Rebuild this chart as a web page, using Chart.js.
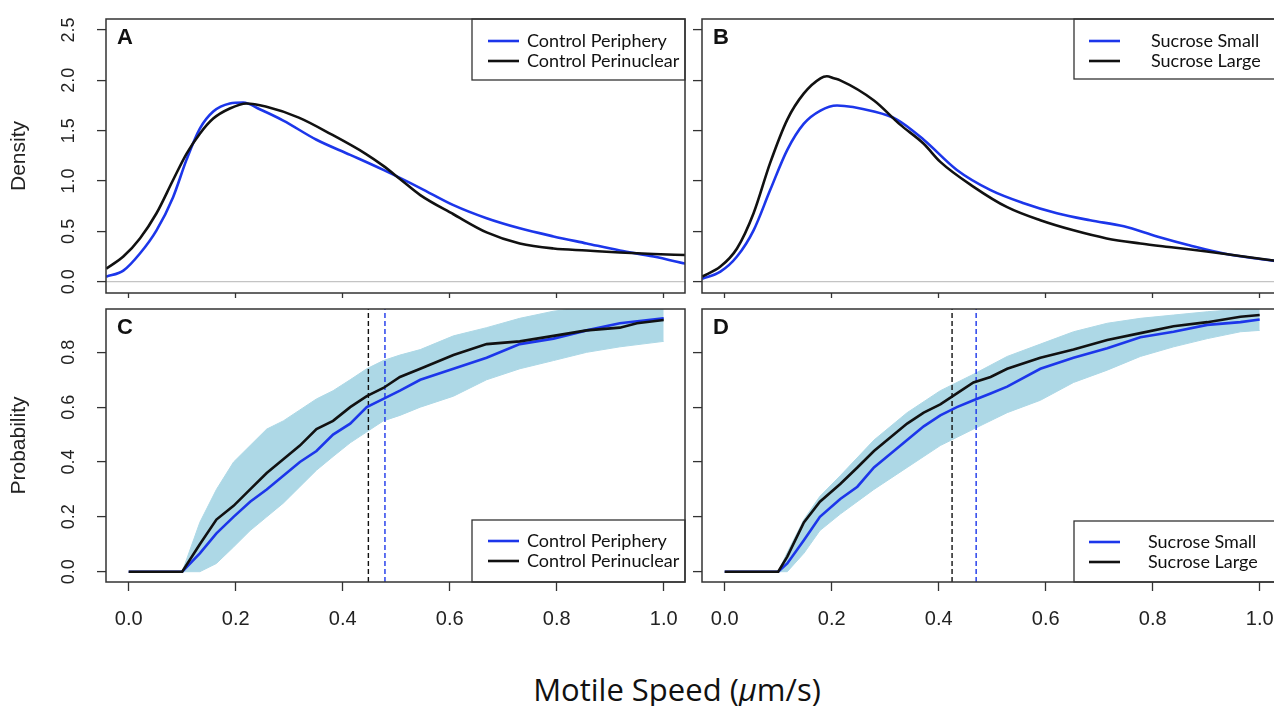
<!DOCTYPE html>
<html>
<head>
<meta charset="utf-8">
<script src="https://cdn.jsdelivr.net/npm/chart.js@4.4.1/dist/chart.umd.min.js"></script>
<style>
  html, body { margin: 0; padding: 0; background: #fff; }
  #fig { position: relative; width: 1274px; height: 706px; overflow: hidden; }
  #fig canvas { position: absolute; }
  #xtitle {
    position: absolute; left: 427px; width: 500px; top: 668px;
    text-align: center; font-family: "Open Sans", sans-serif; font-size: 31px; color: #111;
  }
</style>
</head>
<body>
<div id="fig">
  <canvas id="panelA" width="700" height="300" style="left:0;top:0"></canvas>
  <canvas id="panelB" width="700" height="300" style="left:596px;top:0"></canvas>
  <canvas id="panelC" width="700" height="340" style="left:0;top:300px"></canvas>
  <canvas id="panelD" width="700" height="340" style="left:596px;top:300px"></canvas>
  <div id="xtitle">Motile Speed (<i>μ</i>m/s)</div>
</div>
<script>
// axes
const X_RANGE = [-0.0424, 1.0398];
const X_TICKS = [0, 0.2, 0.4, 0.6, 0.8, 1.0];
const DENSITY_RANGE = [-0.112, 2.609];
const DENSITY_TICKS = [0, 0.5, 1.0, 1.5, 2.0, 2.5];
const PROB_RANGE = [-0.0376, 0.958];
const PROB_TICKS = [0, 0.2, 0.4, 0.6, 0.8];

// A - density, control
const A_PERIPHERY_X = [-0.042, -0.01, 0.021, 0.052, 0.083, 0.108, 0.133, 0.158, 0.189, 0.214, 0.246, 0.289, 0.351, 0.414, 0.476, 0.545, 0.607, 0.669, 0.731, 0.794, 0.856, 0.918, 0.981, 1.04];
const A_PERIPHERY_Y = [0.05, 0.11, 0.28, 0.51, 0.84, 1.21, 1.52, 1.69, 1.77, 1.78, 1.71, 1.60, 1.41, 1.26, 1.11, 0.93, 0.76, 0.63, 0.53, 0.45, 0.38, 0.31, 0.25, 0.18];
const A_PERINUCLEAR_X = [-0.042, -0.01, 0.021, 0.052, 0.083, 0.108, 0.133, 0.158, 0.189, 0.22, 0.256, 0.318, 0.38, 0.443, 0.476, 0.507, 0.545, 0.607, 0.669, 0.731, 0.794, 0.856, 0.918, 0.981, 1.04];
const A_PERINUCLEAR_Y = [0.13, 0.25, 0.43, 0.68, 1.01, 1.27, 1.47, 1.62, 1.72, 1.77, 1.74, 1.63, 1.46, 1.27, 1.15, 1.02, 0.86, 0.67, 0.49, 0.38, 0.33, 0.31, 0.29, 0.275, 0.265];

// B - density, sucrose
const B_SMALL_X = [-0.042, -0.008, 0.023, 0.054, 0.085, 0.117, 0.148, 0.179, 0.21, 0.279, 0.322, 0.372, 0.434, 0.497, 0.559, 0.621, 0.683, 0.746, 0.808, 0.87, 0.933, 0.995, 1.04];
const B_SMALL_Y = [0.03, 0.10, 0.25, 0.51, 0.91, 1.31, 1.57, 1.70, 1.75, 1.69, 1.61, 1.41, 1.11, 0.91, 0.78, 0.68, 0.61, 0.55, 0.45, 0.36, 0.28, 0.23, 0.20];
const B_LARGE_X = [-0.042, -0.008, 0.023, 0.054, 0.085, 0.117, 0.148, 0.179, 0.191, 0.204, 0.216, 0.279, 0.328, 0.372, 0.403, 0.466, 0.528, 0.59, 0.652, 0.714, 0.777, 0.839, 0.901, 0.963, 1.04];
const B_LARGE_Y = [0.05, 0.15, 0.33, 0.68, 1.18, 1.61, 1.87, 2.02, 2.04, 2.02, 2.00, 1.80, 1.56, 1.37, 1.19, 0.94, 0.74, 0.61, 0.51, 0.43, 0.38, 0.34, 0.30, 0.255, 0.20];

// C - cumulative, control
const C_PERIPHERY_X = [0, 0.1, 0.133, 0.164, 0.196, 0.227, 0.258, 0.289, 0.32, 0.351, 0.382, 0.414, 0.445, 0.476, 0.507, 0.545, 0.607, 0.669, 0.731, 0.794, 0.856, 0.918, 1.0];
const C_PERIPHERY_Y = [0, 0, 0.067, 0.14, 0.20, 0.255, 0.30, 0.35, 0.40, 0.44, 0.50, 0.54, 0.60, 0.63, 0.66, 0.70, 0.74, 0.78, 0.83, 0.85, 0.88, 0.906, 0.924];
const C_PERINUCLEAR_X = [0, 0.1, 0.133, 0.164, 0.196, 0.227, 0.258, 0.289, 0.32, 0.351, 0.382, 0.414, 0.445, 0.476, 0.507, 0.545, 0.607, 0.669, 0.731, 0.794, 0.856, 0.918, 0.95, 1.0];
const C_PERINUCLEAR_Y = [0, 0, 0.10, 0.19, 0.24, 0.30, 0.36, 0.41, 0.46, 0.52, 0.55, 0.60, 0.64, 0.67, 0.71, 0.74, 0.79, 0.83, 0.84, 0.86, 0.88, 0.89, 0.906, 0.918];
const C_BAND_X = [0.1, 0.133, 0.164, 0.196, 0.227, 0.258, 0.289, 0.32, 0.351, 0.382, 0.414, 0.445, 0.476, 0.507, 0.545, 0.607, 0.669, 0.731, 0.794, 0.856, 0.918, 1.0];
const C_BAND_UP = [0, 0.18, 0.30, 0.40, 0.46, 0.52, 0.55, 0.59, 0.63, 0.66, 0.70, 0.74, 0.77, 0.79, 0.81, 0.86, 0.89, 0.924, 0.95, 0.965, 0.975, 0.98];
const C_BAND_LO = [0, 0, 0.03, 0.09, 0.15, 0.20, 0.25, 0.31, 0.37, 0.42, 0.47, 0.51, 0.55, 0.57, 0.60, 0.64, 0.70, 0.74, 0.77, 0.80, 0.82, 0.84];
const C_MEDIANS = [0.479, 0.448]; // periphery, perinuclear

// D - cumulative, sucrose
const D_SMALL_X = [0, 0.1, 0.117, 0.148, 0.178, 0.216, 0.248, 0.279, 0.31, 0.341, 0.372, 0.403, 0.434, 0.465, 0.497, 0.528, 0.59, 0.652, 0.715, 0.777, 0.839, 0.902, 0.964, 1.0];
const D_SMALL_Y = [0, 0, 0.03, 0.115, 0.20, 0.265, 0.31, 0.38, 0.43, 0.48, 0.53, 0.57, 0.60, 0.625, 0.65, 0.675, 0.74, 0.78, 0.815, 0.855, 0.875, 0.90, 0.91, 0.92];
const D_LARGE_X = [0, 0.1, 0.117, 0.148, 0.178, 0.216, 0.248, 0.279, 0.31, 0.341, 0.372, 0.403, 0.434, 0.465, 0.497, 0.528, 0.59, 0.652, 0.715, 0.777, 0.839, 0.902, 0.964, 1.0];
const D_LARGE_Y = [0, 0, 0.055, 0.18, 0.255, 0.32, 0.38, 0.44, 0.49, 0.54, 0.58, 0.61, 0.65, 0.69, 0.71, 0.74, 0.78, 0.81, 0.845, 0.87, 0.895, 0.91, 0.93, 0.936];
const D_BAND_X = [0.1, 0.117, 0.148, 0.178, 0.216, 0.279, 0.341, 0.403, 0.465, 0.528, 0.59, 0.652, 0.715, 0.777, 0.839, 0.902, 0.964, 1.0];
const D_BAND_UP = [0, 0.07, 0.19, 0.275, 0.35, 0.48, 0.58, 0.66, 0.72, 0.785, 0.83, 0.875, 0.906, 0.924, 0.936, 0.948, 0.957, 0.96];
const D_BAND_LO = [0, 0, 0.067, 0.15, 0.21, 0.30, 0.38, 0.46, 0.52, 0.58, 0.625, 0.69, 0.735, 0.785, 0.82, 0.85, 0.875, 0.88];
const D_MEDIANS = [0.47, 0.425]; // small, large

const BLUE = '#1c36ea';
const BLACK = '#111111';
const LIGHTBLUE = '#add8e6';
const TICK_FONT = 'Liberation Sans';

const pts = (xs, ys) => xs.map((x, i) => ({ x, y: ys[i] }));

function curve(label, xs, ys, color, smooth) {
  return {
    label, inLegend: true, data: pts(xs, ys), borderColor: color, borderWidth: 2.6,
    cubicInterpolationMode: smooth ? 'monotone' : 'default', tension: 0,
    order: color === BLACK ? 0 : 1
  };
}
function band(xs, up, lo) {
  return [
    { data: pts(xs, up), borderColor: LIGHTBLUE, backgroundColor: LIGHTBLUE, borderWidth: 1, fill: '+1', order: 5 },
    { data: pts(xs, lo), borderColor: LIGHTBLUE, borderWidth: 1, fill: false, order: 5 }
  ];
}
function median(x, color) {
  return { data: [{ x, y: PROB_RANGE[0] }, { x, y: PROB_RANGE[1] }], borderColor: color, borderWidth: 1.4, borderDash: [5, 3], order: 3 };
}

// panel letter, legend box and frame
const frame = {
  id: 'frame',
  afterDatasetsDraw(chart, args, o) {
    const { ctx, chartArea: a } = chart;
    ctx.save();
    ctx.fillStyle = '#111';
    ctx.font = 'bold 22px "Liberation Sans"';
    ctx.textBaseline = 'top';
    ctx.fillText(o.tag, a.left + 11, a.top + 8);

    const L = o.legend;
    const bx = a.right - L.w;
    const by = L.at === 'top' ? a.top : a.bottom - L.h;
    ctx.fillStyle = '#fff';
    ctx.fillRect(bx, by, L.w, L.h);
    ctx.strokeStyle = '#333';
    ctx.lineWidth = 1.3;
    ctx.strokeRect(bx, by, L.w, L.h);
    ctx.font = '18px Lato';
    ctx.textBaseline = 'middle';
    chart.data.datasets.filter(d => d.inLegend).forEach((d, i) => {
      const y = by + L.row0 + i * 20;
      ctx.strokeStyle = d.borderColor;
      ctx.lineWidth = 2.6;
      ctx.beginPath();
      ctx.moveTo(bx + L.lineX, y);
      ctx.lineTo(bx + L.lineX + 31, y);
      ctx.stroke();
      ctx.fillStyle = '#111';
      ctx.fillText(d.label, bx + L.textX, y);
    });

    ctx.strokeStyle = '#333';
    ctx.lineWidth = 1.5;
    ctx.strokeRect(a.left, a.top, a.right - a.left, a.bottom - a.top);
    ctx.restore();
  }
};

function noPad(s) {
  s.paddingTop = 0; s.paddingBottom = 0; s.paddingLeft = 0; s.paddingRight = 0;
}

function panel(id, cfg) {
  return new Chart(document.getElementById(id), {
    type: 'line',
    data: { datasets: cfg.datasets },
    options: {
      responsive: false,
      animation: false,
      events: [],
      layout: { padding: { top: cfg.padTop, right: 15, left: 0, bottom: 0 } },
      elements: { point: { radius: 0 } },
      plugins: { legend: { display: false }, tooltip: { enabled: false }, frame: cfg.frame },
      scales: {
        x: {
          type: 'linear', min: X_RANGE[0], max: X_RANGE[1],
          afterBuildTicks: s => { s.ticks = X_TICKS.map(v => ({ value: v })); },
          afterFit: s => { s.height = cfg.xHeight; noPad(s); },
          border: { display: false },
          grid: { drawOnChartArea: false, tickLength: cfg.xTickLen, tickColor: '#333', tickWidth: 1.3 },
          ticks: {
            display: cfg.xLabels, autoSkip: false, maxRotation: 0, padding: 16, color: '#222',
            font: { family: TICK_FONT, size: 20 }, callback: v => v.toFixed(1)
          }
        },
        y: {
          type: 'linear', min: cfg.yRange[0], max: cfg.yRange[1],
          afterBuildTicks: s => { s.ticks = cfg.yTicks.map(v => ({ value: v })); },
          afterFit: s => { s.width = 106; noPad(s); },
          border: { display: false },
          grid: {
            color: c => (cfg.zeroLine && c.tick && c.tick.value === 0) ? '#c4c4c4' : 'rgba(0,0,0,0)',
            lineWidth: 1.2, tickColor: '#333', tickLength: 9, tickWidth: 1.3
          },
          ticks: {
            display: cfg.yLabels, autoSkip: false, minRotation: 90, maxRotation: 90, crossAlign: 'center',
            padding: 15, color: '#222', font: { family: TICK_FONT, size: 18 }, callback: v => v.toFixed(1)
          },
          title: {
            display: !!cfg.yTitle, text: cfg.yTitle, color: '#222',
            font: { family: TICK_FONT, size: 21 }, padding: { top: 7, bottom: 0 }
          }
        }
      }
    },
    plugins: [frame]
  });
}

const LEG_LEFT_TOP = { w: 213, h: 61, at: 'top', row0: 22, lineX: 16, textX: 55 };
const LEG_LEFT_BOTTOM = { w: 213, h: 62, at: 'bottom', row0: 21, lineX: 16, textX: 55 };
const LEG_RIGHT_TOP = { w: 207, h: 60, at: 'top', row0: 22, lineX: 15, textX: 77 };
const LEG_RIGHT_BOTTOM = { w: 207, h: 61, at: 'bottom', row0: 21, lineX: 15, textX: 74 };

panel('panelA', {
  datasets: [
    curve('Control Periphery', A_PERIPHERY_X, A_PERIPHERY_Y, BLUE, true),
    curve('Control Perinuclear', A_PERINUCLEAR_X, A_PERINUCLEAR_Y, BLACK, true)
  ],
  padTop: 19, xHeight: 7, xTickLen: 5, xLabels: false,
  yRange: DENSITY_RANGE, yTicks: DENSITY_TICKS, yLabels: true, yTitle: 'Density', zeroLine: true,
  frame: { tag: 'A', legend: LEG_LEFT_TOP }
});

panel('panelB', {
  datasets: [
    curve('Sucrose Small', B_SMALL_X, B_SMALL_Y, BLUE, true),
    curve('Sucrose Large', B_LARGE_X, B_LARGE_Y, BLACK, true)
  ],
  padTop: 19, xHeight: 7, xTickLen: 5, xLabels: false,
  yRange: DENSITY_RANGE, yTicks: DENSITY_TICKS, yLabels: false, yTitle: '', zeroLine: true,
  frame: { tag: 'B', legend: LEG_RIGHT_TOP }
});

panel('panelC', {
  datasets: [
    curve('Control Periphery', C_PERIPHERY_X, C_PERIPHERY_Y, BLUE, false),
    curve('Control Perinuclear', C_PERINUCLEAR_X, C_PERINUCLEAR_Y, BLACK, false),
    ...band(C_BAND_X, C_BAND_UP, C_BAND_LO),
    median(C_MEDIANS[0], BLUE),
    median(C_MEDIANS[1], BLACK)
  ],
  padTop: 9, xHeight: 58, xTickLen: 9, xLabels: true,
  yRange: PROB_RANGE, yTicks: PROB_TICKS, yLabels: true, yTitle: 'Probability', zeroLine: false,
  frame: { tag: 'C', legend: LEG_LEFT_BOTTOM }
});

panel('panelD', {
  datasets: [
    curve('Sucrose Small', D_SMALL_X, D_SMALL_Y, BLUE, false),
    curve('Sucrose Large', D_LARGE_X, D_LARGE_Y, BLACK, false),
    ...band(D_BAND_X, D_BAND_UP, D_BAND_LO),
    median(D_MEDIANS[0], BLUE),
    median(D_MEDIANS[1], BLACK)
  ],
  padTop: 9, xHeight: 58, xTickLen: 9, xLabels: true,
  yRange: PROB_RANGE, yTicks: PROB_TICKS, yLabels: false, yTitle: '', zeroLine: false,
  frame: { tag: 'D', legend: LEG_RIGHT_BOTTOM }
});
</script>
</body>
</html>
